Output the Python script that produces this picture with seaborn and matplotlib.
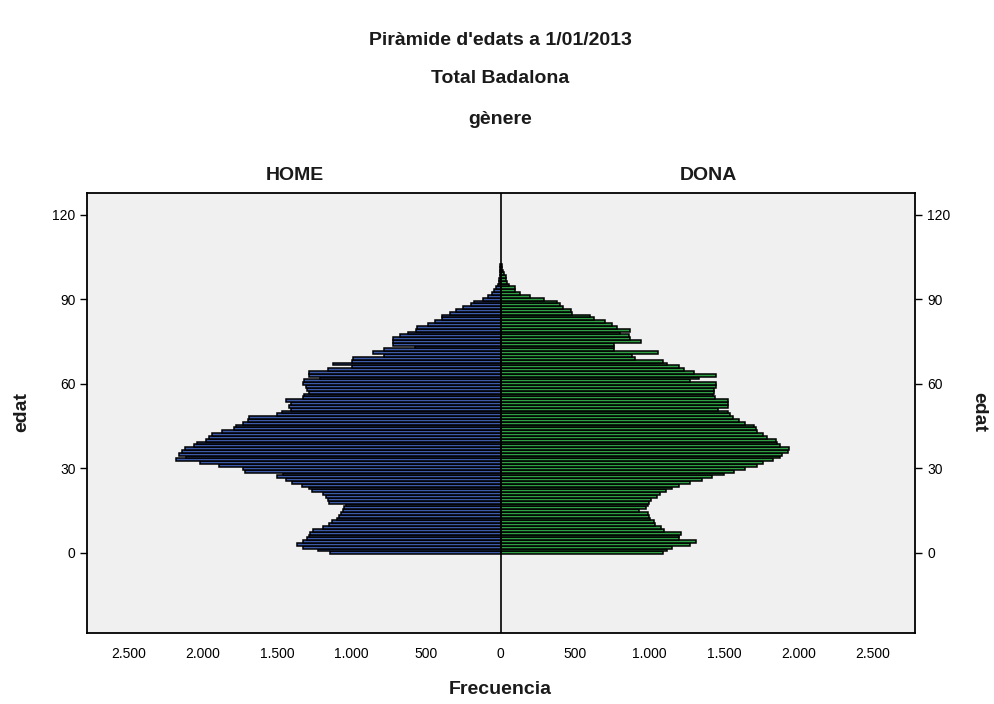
"""
Piràmide d'edats Badalona 2013 (estil SPSS) amb seaborn
"""

import matplotlib
matplotlib.use("Agg")
import matplotlib.pyplot as plt
import pandas as pd
import seaborn as sns


EDAT = list(range(0, 103))

HOME = [
    1145, 1225, 1330, 1370, 1330, 1300, 1290, 1280, 1260, 1195,
    1150, 1130, 1100, 1085, 1075, 1060, 1050, 1040, 1150, 1160,
    1175, 1195, 1270, 1285, 1335, 1400, 1440, 1500, 1460, 1720,
    1730, 1890, 2020, 2180, 2110, 2160, 2140, 2120, 2060, 2040,
    1980, 1960, 1940, 1870, 1790, 1780, 1730, 1700, 1690, 1500,
    1470, 1410, 1420, 1410, 1440, 1330, 1320, 1290, 1300, 1310,
    1330, 1320, 1215, 1290, 1290, 1160, 995, 1125, 1000, 990,
    780, 860, 780, 575, 720, 725, 720, 675, 620, 565,
    560, 485, 440, 395, 395, 340, 300, 255, 200, 180,
    115, 82, 60, 45, 30, 18, 12, 8, 6, 4,
    3, 1, 1,
]

DONA = [
    1090, 1120, 1150, 1270, 1310, 1200, 1200, 1210, 1100, 1075,
    1040, 1030, 1005, 995, 990, 930, 980, 990, 995, 1010,
    1050, 1070, 1110, 1150, 1200, 1270, 1350, 1420, 1500, 1570,
    1640, 1720, 1760, 1830, 1880, 1890, 1930, 1940, 1880, 1860,
    1850, 1790, 1760, 1720, 1715, 1700, 1640, 1600, 1560, 1540,
    1530, 1460, 1530, 1530, 1525, 1440, 1425, 1435, 1435, 1450,
    1450, 1270, 1330, 1450, 1300, 1230, 1200, 1120, 1090, 900,
    880, 1060, 760, 760, 760, 940, 870, 860, 800, 870,
    780, 750, 700, 625, 600, 480, 470, 420, 400, 377,
    290, 200, 130, 100, 95, 55, 42, 38, 36, 25,
    18, 12, 8,
]

X_TICKS = [-2500, -2000, -1500, -1000, -500, 0, 500, 1000, 1500, 2000, 2500]
X_LABELS = ["2.500", "2.000", "1.500", "1.000", "500", "0",
            "500", "1.000", "1.500", "2.000", "2.500"]
Y_TICKS = [0, 30, 60, 90, 120]

BLUE = "#3c5aa8"
GREEN = "#2f9e44"


def main():
    sns.set_style("white")
    plt.rcParams["font.family"] = ["Liberation Sans", "DejaVu Sans"]

    df = pd.DataFrame({"edat": EDAT, "home": HOME, "dona": DONA})
    df["home_neg"] = -df["home"]

    fig = plt.figure(figsize=(9.94, 7.04), dpi=100)
    ax = fig.add_axes([0.088, 0.101, 0.833, 0.625])
    ax.set_facecolor("#f0f0f0")

    common = dict(orient="y", native_scale=True, width=1.0, saturation=1,
                  edgecolor="black", linewidth=1.1, errorbar=None, ax=ax)
    sns.barplot(data=df, x="home_neg", y="edat", color=BLUE, **common)
    sns.barplot(data=df, x="dona", y="edat", color=GREEN, **common)

    ax.axvline(0, color="black", lw=1.2, zorder=5)
    ax.set_xlim(-2775, 2787)
    ax.set_ylim(-28.4, 127.7)

    ax.set_xticks(X_TICKS)
    ax.set_xticklabels(X_LABELS)
    ax.set_yticks(Y_TICKS)
    ax.tick_params(axis="both", direction="out", length=5, width=1,
                   color="black", labelsize=10, labelcolor="black")
    ax.tick_params(axis="x", length=7)
    ax.tick_params(axis="y", right=True, labelright=True, left=True)
    ax.set_xlabel("")
    ax.set_ylabel("")
    for s in ax.spines.values():
        s.set_visible(True)
        s.set_color("black")
        s.set_linewidth(1.3)

    bold = dict(fontweight="bold", ha="center", va="center", color="#1a1a1a")
    fig.text(0.503, 0.943, "Piràmide d'edats a 1/01/2013", fontsize=14, **bold)
    fig.text(0.503, 0.888, "Total Badalona", fontsize=14, **bold)
    fig.text(0.503, 0.830, "gènere", fontsize=14, **bold)
    ax.text(0.25, 1.04, "HOME", transform=ax.transAxes, fontsize=14, **bold)
    ax.text(0.75, 1.04, "DONA", transform=ax.transAxes, fontsize=14, **bold)
    fig.text(0.503, 0.020, "Frecuencia", fontsize=14, **bold)
    fig.text(0.022, 0.415, "edat", fontsize=14, rotation=90, **bold)
    fig.text(0.985, 0.415, "edat", fontsize=14, rotation=-90, **bold)

    fig.savefig("out.png", dpi=100)
    plt.close(fig)


if __name__ == "__main__":
    main()
